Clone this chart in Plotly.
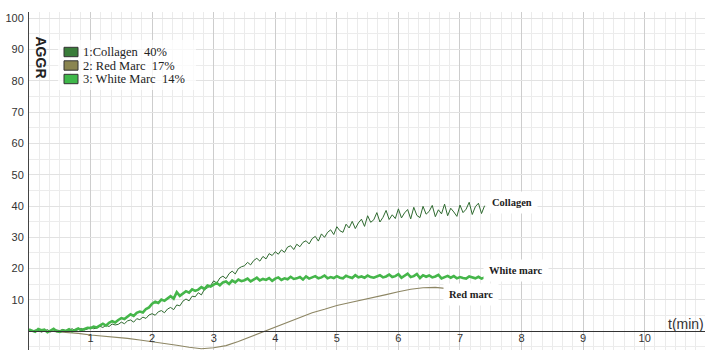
import plotly.graph_objects as go

# ---------------- data ----------------
step_fast = 0.05
collagen = [
    0.2, -0.1, 0.4, 0.3, -0.3, 0.1, 0.5, -0.2, 0.0, 0.4,
    0.2, 0.6, 0.1, 0.3, 0.8, 0.2, 0.5, 0.9, 0.4, 0.7,
    1.3, 0.8, 1.0, 1.6, 1.2, 1.9, 1.5, 2.3, 2.0, 2.2,
    2.9, 2.4, 3.3, 3.6, 2.9, 4.0, 3.7, 4.5, 4.1, 5.2,
    5.6, 5.1, 6.2, 6.6, 5.9, 7.1, 7.6, 6.9, 8.4, 8.1,
    9.6, 10.3, 9.7, 11.2, 11.0, 12.3, 11.6, 13.4, 13.9, 14.6,
    16.1, 15.4, 17.0, 17.6, 16.8, 18.4, 19.2, 18.3, 20.0, 20.6,
    20.9, 22.0, 21.2, 22.6, 23.3, 22.4, 23.9, 23.1, 24.8, 24.2,
    25.4, 24.6, 26.0, 25.2, 26.9, 27.3, 26.1, 27.8, 27.0, 28.4,
    28.9, 27.9, 29.6, 30.3, 28.8, 31.1, 30.0, 31.6, 32.4, 30.9,
    33.4, 32.1, 31.6, 34.2, 33.0, 35.1, 32.8, 34.6, 35.8, 33.5,
    36.9, 34.8, 35.6, 37.9, 34.9, 36.4, 38.6, 35.7, 37.2, 36.0,
    39.1, 36.2, 37.8, 38.9, 35.9, 39.6, 37.0, 36.3, 39.9, 37.4,
    38.3, 40.2, 36.6, 38.8, 37.5, 40.6, 36.9, 39.3, 38.1, 36.7,
    40.3, 37.9, 39.0, 41.2, 37.3, 39.8, 40.9, 37.6, 40.1,
]
white_marc = [
    0.6, 0.1, -0.2, 0.7, 0.3, 0.5, -0.3, 0.2, 0.8, 0.0,
    -0.2, 0.3, 0.1, 0.6, 0.0, 0.4, 0.9, 0.3, 0.7, 1.1,
    1.0, 1.5, 1.2, 1.9, 2.4, 1.8, 2.7, 3.2, 2.8, 3.6,
    4.2, 3.9, 4.8, 5.4, 4.9, 5.9, 6.3, 6.0, 7.1, 7.6,
    8.8, 9.4, 9.0, 10.1, 9.7, 10.5, 11.2, 10.4, 12.5, 11.3,
    12.0, 12.8, 12.3, 13.4, 12.9, 13.3, 14.1, 13.5, 14.6, 14.3,
    14.9, 15.4, 14.7, 15.6, 15.9, 15.1, 16.2, 15.6, 16.5, 16.0,
    16.3, 16.8, 15.9, 16.6, 17.1, 16.2, 16.7, 16.4, 17.0, 16.1,
    16.8, 17.2, 16.4, 16.9, 16.6, 17.4, 16.7, 16.9, 17.3, 16.5,
    17.5, 16.8, 17.1, 17.6, 16.9, 17.2, 17.8, 16.9, 17.3, 17.0,
    17.6, 17.1, 16.9, 17.7, 17.3, 17.0, 17.9, 17.2, 17.5, 17.1,
    17.8, 17.3, 17.1, 17.6, 17.9, 17.2, 17.5, 18.1, 17.3, 17.6,
    18.2, 17.1, 17.7, 18.4, 17.3, 17.6, 18.3, 17.0, 17.9, 17.4,
    17.8, 17.2, 17.5, 18.0, 16.9, 17.4, 17.7, 17.1, 17.6, 16.9,
    17.3, 17.0, 16.8, 17.5, 17.1, 16.9, 17.4, 16.8, 17.2,
]
step_slow = 0.2
red_marc = [
    0.0, 0.1, -0.1, -0.3, -0.7,
    -1.2, -1.5, -1.9, -2.3, -2.8,
    -3.3, -3.9, -4.5, -5.1, -5.6,
    -5.3, -4.6, -3.3, -1.8, -0.3,
    1.2, 2.8, 4.4, 5.9, 7.0,
    8.2, 9.1, 9.9, 10.8, 11.7,
    12.6, 13.4, 13.9, 14.0, 13.6,
]
legend_labels = ["1:Collagen\u00a0\u00a040%", "2: Red Marc\u00a0\u00a017%", "3: White Marc\u00a0\u00a014%"]
curve_labels = ["Collagen", "White marc", "Red marc"]
x_ticks = [1, 2, 3, 4, 5, 6, 7, 8, 9, 10]
y_ticks = [10, 20, 30, 40, 50, 60, 70, 80, 90, 100]

t_fast = [round(i * step_fast, 3) for i in range(len(collagen))]
t_slow = [round(i * step_slow, 3) for i in range(len(red_marc))]

# ---------------- style ----------------
C_COLL = "#2f6a30"
C_WHITE = "#45b64a"
C_RED = "#8d8664"
SQ = ["#3a7d3a", "#8a8550", "#3fb84a"]

W, H = 705, 350
ML, MT = 29, 12
PW, PH = W - ML, H - MT


def px(x):
    return (x - ML) / PW


def py(y):
    return (H - y) / PH


fig = go.Figure()
fig.add_trace(go.Scatter(x=t_slow, y=red_marc, mode="lines",
                         line=dict(color=C_RED, width=1.1), showlegend=False))
fig.add_trace(go.Scatter(x=t_fast, y=collagen, mode="lines",
                         line=dict(color=C_COLL, width=1), showlegend=False))
fig.add_trace(go.Scatter(x=t_fast, y=white_marc, mode="lines",
                         line=dict(color=C_WHITE, width=2.6), showlegend=False))

y0_pos = (0 - (-6)) / (102 - (-6))

fig.update_layout(
    width=W, height=H,
    margin=dict(l=ML, r=0, t=MT, b=0),
    paper_bgcolor="white", plot_bgcolor="white",
    showlegend=False,
    xaxis=dict(
        range=[0, 10.98], anchor="free", position=y0_pos,
        tickvals=x_ticks, ticktext=[str(v) for v in x_ticks],
        showline=True, linecolor="#333333", linewidth=1,
        ticks="", zeroline=False,
        showgrid=True, gridcolor="#cdcdcd", gridwidth=1,
        tickfont=dict(family="Liberation Sans, Arial", size=11, color="#333333"),
        minor=dict(dtick=1 / 6, tick0=0, showgrid=True, gridcolor="#ebebeb", gridwidth=1),
        ticklabelstandoff=-3,
    ),
    yaxis=dict(
        range=[-6, 102], tickvals=y_ticks,
        showline=True, linecolor="#444444", linewidth=1,
        ticks="", zeroline=False,
        showgrid=True, gridcolor="#e2e2e2", gridwidth=1,
        tickfont=dict(family="Liberation Sans, Arial", size=11, color="#333333"),
        minor=dict(dtick=5, tick0=0, showgrid=True, gridcolor="#ececec", gridwidth=1),
        ticklabelstandoff=2,
    ),
)

shapes = []
annotations = []

# legend background
shapes.append(dict(type="rect", xref="paper", yref="paper",
                   x0=px(58), x1=px(196), y0=py(90), y1=py(40),
                   fillcolor="rgba(255,255,255,0.75)", line=dict(width=0), layer="above"))
rows_y = [52, 65.5, 79]
for i, (lab, col, ry) in enumerate(zip(legend_labels, SQ, rows_y)):
    shapes.append(dict(type="rect", xref="paper", yref="paper",
                       x0=px(64), x1=px(78), y0=py(ry + 4.7), y1=py(ry - 4.7),
                       fillcolor=col, line=dict(color="#333333", width=1), layer="above"))
    annotations.append(dict(xref="paper", yref="paper", x=px(81), y=py(ry),
                            xanchor="left", yanchor="middle", text=lab, showarrow=False,
                            font=dict(family="Liberation Serif, Times New Roman", size=12.5, color="#222222")))

# AGGR label
annotations.append(dict(xref="paper", yref="paper", x=px(40), y=py(57.5),
                        xanchor="center", yanchor="middle", text="<b>AGGR</b>", textangle=90,
                        showarrow=False,
                        font=dict(family="Liberation Sans, Arial", size=14, color="#222222")))

# t(min) label
annotations.append(dict(xref="paper", yref="paper", x=px(666), y=py(324),
                        xanchor="left", yanchor="middle", text="t(min)", showarrow=False,
                        font=dict(family="Liberation Sans, Arial", size=14, color="#333333")))

# curve labels
label_pos = [(7.43, 41.0), (7.38, 19.5), (6.72, 11.8)]
for txt, (lx, ly) in zip(curve_labels, label_pos):
    annotations.append(dict(xref="x", yref="y", x=lx, y=ly, xanchor="left", yanchor="middle",
                            text="<b>" + txt + "</b>", showarrow=False, bgcolor="white",
                            borderpad=5,
                            font=dict(family="Liberation Serif, Times New Roman", size=10.5, color="#222222")))

fig.update_layout(shapes=shapes, annotations=annotations)
fig.write_html("out.html")
